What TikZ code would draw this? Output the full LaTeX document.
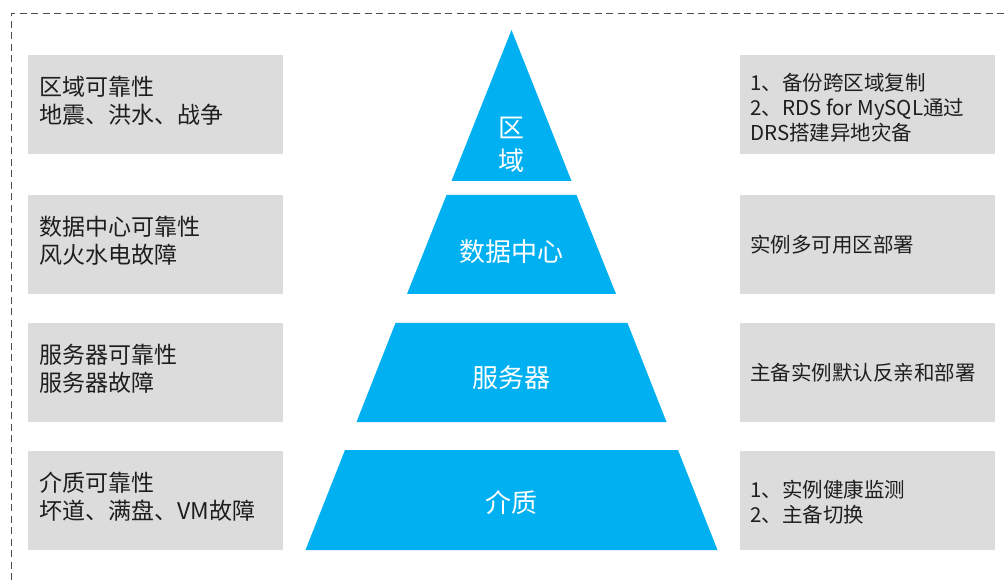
\documentclass[tikz,border=0pt]{standalone}
\usepackage{fontspec}
\setmainfont{Noto Sans CJK SC}
\usepackage{xcolor}
\usepackage{tikz}

\definecolor{layerblue}{HTML}{00B0F0}
\definecolor{boxgray}{HTML}{DCDCDC}
\definecolor{textgray}{HTML}{1E1E1E}

\tikzset{
  infobox/.style={fill=boxgray, anchor=north west, inner sep=0pt,
    minimum width=255pt, minimum height=99pt},
  lefttext/.style={anchor=west, align=left, inner sep=0pt, text=textgray,
    font=\fontsize{23}{28.5}\selectfont},
  righttext/.style={anchor=west, align=left, inner sep=0pt, text=textgray,
    font=\fontsize{20.5}{25}\selectfont},
  layertext/.style={align=center, inner sep=0pt, text=white,
    font=\fontsize{26}{33}\selectfont},
}

\begin{document}
\begin{tikzpicture}[x=1pt, y=-1pt]
        \useasboundingbox (0, 0) rectangle (1005, 580);
        % frame
        \draw[gray!60!black, line width=1pt, dash pattern=on 7pt off 4.5pt] (11, 580) 
            -- (11, 13.5) 
            -- (1005, 13.5) ;

        % pyramid
        \fill[layerblue] (511.5, 30) -- (571.5, 181) -- (451.5, 181) -- cycle;
        \fill[layerblue] (446.5, 195) -- (576.5, 195) -- (616, 294) -- (407, 294) -- cycle;
        \fill[layerblue] (395.5, 323) -- (627.5, 323) -- (666.5, 422) -- (356.5, 422) -- cycle;
        \fill[layerblue] (345, 450) -- (678, 450) -- (717.5, 550) -- (305.5, 550) -- cycle;

        \node[layertext] (region) at (511.5, 145) {区\\域};
        \node[layertext] (datacenter) at (511.5, 252) {数据中心};
        \node[layertext] (server) at (511.5, 378) {服务器};
        \node[layertext] (medium) at (511.5, 503) {介质};

        % left boxes
        \node[infobox] (l1) at (28, 55) {};
        \node[infobox] (l2) at (28, 195) {};
        \node[infobox] (l3) at (28, 323) {};
        \node[infobox] (l4) at (28, 451) {};
        \node[lefttext] (l1t) at ([xshift=11pt, yshift=4pt]l1.west) {区域可靠性\\地震、洪水、战争};
        \node[lefttext] (l2t) at ([xshift=11pt, yshift=4pt]l2.west) {数据中心可靠性\\风火水电故障};
        \node[lefttext] (l3t) at ([xshift=11pt, yshift=4pt]l3.west) {服务器可靠性\\服务器故障};
        \node[lefttext] (l4t) at ([xshift=11pt, yshift=4pt]l4.west) {介质可靠性\\坏道、满盘、VM故障};

        % right boxes
        \node[infobox] (r1) at (740, 55) {};
        \node[infobox] (r2) at (740, 195) {};
        \node[infobox] (r3) at (740, 323) {};
        \node[infobox] (r4) at (740, 451) {};
        \node[righttext] (r1t) at ([xshift=10pt, yshift=-3pt]r1.west) {1、备份跨区域复制\\2、RDS for MySQL通过\\DRS搭建异地灾备};
        \node[righttext] (r2t) at ([xshift=10pt]r2.west) {实例多可用区部署};
        \node[righttext] (r3t) at ([xshift=10pt]r3.west) {主备实例默认反亲和部署};
        \node[righttext] (r4t) at ([xshift=10pt, yshift=-1pt]r4.west) {1、实例健康监测\\2、主备切换};
    \end{tikzpicture}
\end{document}
